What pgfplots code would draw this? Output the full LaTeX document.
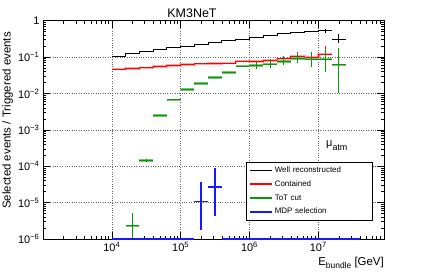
\documentclass[border=0pt]{standalone}
\usepackage{fontspec}
\setmainfont{Liberation Sans}
\usepackage{pgfplots}
\pgfplotsset{compat=1.18}
\definecolor{rootgreen}{RGB}{10,150,10}
\definecolor{rootblue}{RGB}{25,25,255}
\begin{document}
\begin{tikzpicture}
\useasboundingbox (0,0) rectangle (427bp,273bp);
\begin{axis}[
  at={(43bp,34bp)}, anchor=south west,
  scale only axis, width=341bp, height=218.3bp,
  xmode=log, ymode=log,
  xmin=1000, xmax=9e7, ymin=1e-6, ymax=1,
  xtick={1e4,1e5,1e6,1e7},
  xticklabels={10\textsuperscript{4},10\textsuperscript{5},10\textsuperscript{6},10\textsuperscript{7}},
  ytick={1e-6,1e-5,1e-4,1e-3,1e-2,1e-1,1},
  yticklabels={10\textsuperscript{−6},10\textsuperscript{−5},10\textsuperscript{−4},10\textsuperscript{−3},10\textsuperscript{−2},10\textsuperscript{−1},1},
  minor xtick={2000,3000,4000,5000,6000,7000,8000,9000,
    2e4,3e4,4e4,5e4,6e4,7e4,8e4,9e4,
    2e5,3e5,4e5,5e5,6e5,7e5,8e5,9e5,
    2e6,3e6,4e6,5e6,6e6,7e6,8e6,9e6,
    2e7,3e7,4e7,5e7,6e7,7e7,8e7},
  minor ytick={2e-6,3e-6,4e-6,5e-6,6e-6,7e-6,8e-6,9e-6,
    2e-5,3e-5,4e-5,5e-5,6e-5,7e-5,8e-5,9e-5,
    2e-4,3e-4,4e-4,5e-4,6e-4,7e-4,8e-4,9e-4,
    2e-3,3e-3,4e-3,5e-3,6e-3,7e-3,8e-3,9e-3,
    0.02,0.03,0.04,0.05,0.06,0.07,0.08,0.09,
    0.2,0.3,0.4,0.5,0.6,0.7,0.8,0.9},
  tick align=inside, xtick pos=both, ytick pos=both,
  major tick length=7bp, minor tick length=3.5bp,
  grid=major, major grid style={dotted, black!60, line width=0.6bp},
  tick style={black, line width=0.5bp},
  axis line style={line width=0.7bp},
  tick label style={font=\fontsize{11}{12}\selectfont},
  /pgf/number format/assume math mode=true,
  unbounded coords=jump,
  clip=false,
  legend style={at={(0.595,0.0857)}, anchor=south west, draw=black, line width=0.6bp, fill=white,
    font=\fontsize{8}{9}\selectfont, inner xsep=3bp, inner ysep=2.5bp, row sep=2.3bp,
    nodes={text height=6bp, text depth=1.5bp, inner sep=2bp}},
  legend cell align=left,
  legend image code/.code={\draw[#1] (0bp,0bp) -- (22bp,0bp);},
]
% Well reconstructed (step)
\addplot[draw=black, line width=1bp, const plot, forget plot] coordinates {
 (1e4,0.107) (1.5849e4,0.127) (2.5119e4,0.141) (3.9811e4,0.160) (6.3096e4,0.178)
 (1e5,0.198) (1.5849e5,0.222) (2.5119e5,0.249) (3.9811e5,0.277) (6.3096e5,0.314)
 (1e6,0.342) (1.5849e6,0.389) (2.5119e6,0.44) (3.9811e6,0.48) (6.3096e6,0.52)
 (1e7,0.53) (1.5849e7,0.53)};
\addplot[draw=black, line width=1bp, forget plot] coordinates {
 (1.2589e7,0.47) (1.2589e7,0.60) (1.2589e7,nan)
 (1.5849e7,0.30) (2.5119e7,0.30) (2.5119e7,nan)
 (1.9953e7,0.24) (1.9953e7,0.43)};
% Contained (step)
\addplot[draw=red!35, line width=2.4bp, const plot, forget plot] coordinates {
 (1e4,0.047) (1.5849e4,0.049) (2.5119e4,0.051) (3.9811e4,0.055) (6.3096e4,0.058)
 (1e5,0.062) (1.5849e5,0.065) (2.5119e5,0.067) (3.9811e5,0.069) (6.3096e5,0.078)
 (1e6,0.075) (1.5849e6,0.080) (2.5119e6,0.090) (3.9811e6,0.107) (6.3096e6,0.100)
 (1e7,0.122) (1.5849e7,0.122)};
\addplot[draw=red, line width=0.8bp, const plot, forget plot] coordinates {
 (1e4,0.047) (1.5849e4,0.049) (2.5119e4,0.051) (3.9811e4,0.055) (6.3096e4,0.058)
 (1e5,0.062) (1.5849e5,0.065) (2.5119e5,0.067) (3.9811e5,0.069) (6.3096e5,0.078)
 (1e6,0.075) (1.5849e6,0.080) (2.5119e6,0.090) (3.9811e6,0.107) (6.3096e6,0.100)
 (1e7,0.122) (1.5849e7,0.122)};
\addplot[draw=red, line width=1bp, forget plot] coordinates {
 (3.1623e6,0.080) (3.1623e6,0.102) (3.1623e6,nan)
 (5.0119e6,0.082) (5.0119e6,0.136) (5.0119e6,nan)
 (1.2589e7,0.085) (1.2589e7,0.20)};
% ToT cut
\addplot[draw=rootgreen!55, line width=2.4bp, forget plot] coordinates {
 (1.5849e4,2.3e-6) (2.5119e4,2.3e-6) (2.5119e4,nan)
 (2.5119e4,1.43e-4) (3.9811e4,1.43e-4) (3.9811e4,nan)
 (3.9811e4,2.46e-3) (6.3096e4,2.46e-3) (6.3096e4,nan)
 (6.3096e4,6.7e-3) (1e5,6.7e-3) (1e5,nan)
 (1e5,0.0127) (1.5849e5,0.0127) (1.5849e5,nan)
 (1.5849e5,0.0186) (2.5119e5,0.0186) (2.5119e5,nan)
 (2.5119e5,0.0272) (3.9811e5,0.0272) (3.9811e5,nan)
 (3.9811e5,0.0373) (6.3096e5,0.0373) (6.3096e5,nan)
 (6.3096e5,0.0560) (1e6,0.0560) (1e6,nan)
 (1e6,0.0585) (1.5849e6,0.0585) (1.5849e6,nan)
 (1.5849e6,0.0640) (2.5119e6,0.0640) (2.5119e6,nan)
 (2.5119e6,0.076) (3.9811e6,0.076) (3.9811e6,nan)
 (3.9811e6,0.091) (6.3096e6,0.091) (6.3096e6,nan)
 (6.3096e6,0.087) (1e7,0.087) (1e7,nan)
 (1e7,0.087) (1.5849e7,0.087) (1.5849e7,nan)
 (1.5849e7,0.061) (2.5119e7,0.061)};
\addplot[draw=rootgreen, line width=0.8bp, forget plot] coordinates {
 (1.5849e4,2.3e-6) (2.5119e4,2.3e-6) (2.5119e4,nan)
 (2.5119e4,1.43e-4) (3.9811e4,1.43e-4) (3.9811e4,nan)
 (3.9811e4,2.46e-3) (6.3096e4,2.46e-3) (6.3096e4,nan)
 (6.3096e4,6.7e-3) (1e5,6.7e-3) (1e5,nan)
 (1e5,0.0127) (1.5849e5,0.0127) (1.5849e5,nan)
 (1.5849e5,0.0186) (2.5119e5,0.0186) (2.5119e5,nan)
 (2.5119e5,0.0272) (3.9811e5,0.0272) (3.9811e5,nan)
 (3.9811e5,0.0373) (6.3096e5,0.0373) (6.3096e5,nan)
 (6.3096e5,0.0560) (1e6,0.0560) (1e6,nan)
 (1e6,0.0585) (1.5849e6,0.0585) (1.5849e6,nan)
 (1.5849e6,0.0640) (2.5119e6,0.0640) (2.5119e6,nan)
 (2.5119e6,0.076) (3.9811e6,0.076) (3.9811e6,nan)
 (3.9811e6,0.091) (6.3096e6,0.091) (6.3096e6,nan)
 (6.3096e6,0.087) (1e7,0.087) (1e7,nan)
 (1e7,0.087) (1.5849e7,0.087) (1.5849e7,nan)
 (1.5849e7,0.061) (2.5119e7,0.061)};
\addplot[draw=rootgreen, line width=1bp, forget plot] coordinates {
 (1.9953e4,1e-6) (1.9953e4,5.3e-6) (1.9953e4,nan)
 (3.1623e4,1.30e-4) (3.1623e4,1.57e-4) (3.1623e4,nan)
 (1.2589e6,0.046) (1.2589e6,0.075) (1.2589e6,nan)
 (1.9953e6,0.051) (1.9953e6,0.087) (1.9953e6,nan)
 (3.1623e6,0.060) (3.1623e6,0.105) (3.1623e6,nan)
 (5.0119e6,0.067) (5.0119e6,0.132) (5.0119e6,nan)
 (7.9433e6,0.054) (7.9433e6,0.134) (7.9433e6,nan)
 (1.2589e7,0.038) (1.2589e7,0.170) (1.2589e7,nan)
 (1.9953e7,0.0101) (1.9953e7,0.183)};
% MDP selection
\addplot[draw=rootblue, line width=1.8bp, forget plot] coordinates {
 (1e4,1e-6) (1.5849e5,1e-6) (1.5849e5,nan)
 (3.9811e5,1e-6) (3.98e7,1e-6)};
\addplot[draw=rootblue, line width=1.8bp, forget plot] coordinates {
 (1.5849e5,1.07e-5) (2.5119e5,1.07e-5) (2.5119e5,nan)
 (1.9953e5,1.8e-6) (1.9953e5,3.6e-5) (1.9953e5,nan)
 (2.5119e5,2.65e-5) (3.9811e5,2.65e-5) (3.9811e5,nan)
 (3.1623e5,4.4e-6) (3.1623e5,8.8e-5)};
\addlegendimage{draw=black, line width=1.4bp}
\addlegendentry[text width=92bp]{Well reconstructed}
\addlegendimage{draw=red, line width=1.4bp}
\addlegendentry[text width=92bp]{Contained}
\addlegendimage{draw=rootgreen, line width=1.4bp}
\addlegendentry[text width=92bp]{ToT cut}
\addlegendimage{draw=rootblue, line width=1.6bp}
\addlegendentry[text width=92bp]{MDP selection}
\end{axis}
\node[rotate=90, anchor=base east, inner sep=0pt, font=\fontsize{11.5}{13}\selectfont] at (10.5bp,241bp) {Selected events / Triggered events};
\node[anchor=base, inner sep=0pt, font=\fontsize{12.5}{14}\selectfont] at (192bp,255.7bp) {KM3NeT};
\node[anchor=base east, inner sep=0pt, font=\fontsize{11.5}{13}\selectfont] at (384bp,7.5bp) {E\raisebox{-0.5ex}{\fontsize{8.5}{9}\selectfont bundle} [GeV]};
\node[anchor=base west, inner sep=0pt, font=\fontsize{11}{12}\selectfont] at (326bp,126.3bp) {μ\raisebox{-0.6ex}{\fontsize{9}{10}\selectfont atm}};
\end{tikzpicture}
\end{document}
